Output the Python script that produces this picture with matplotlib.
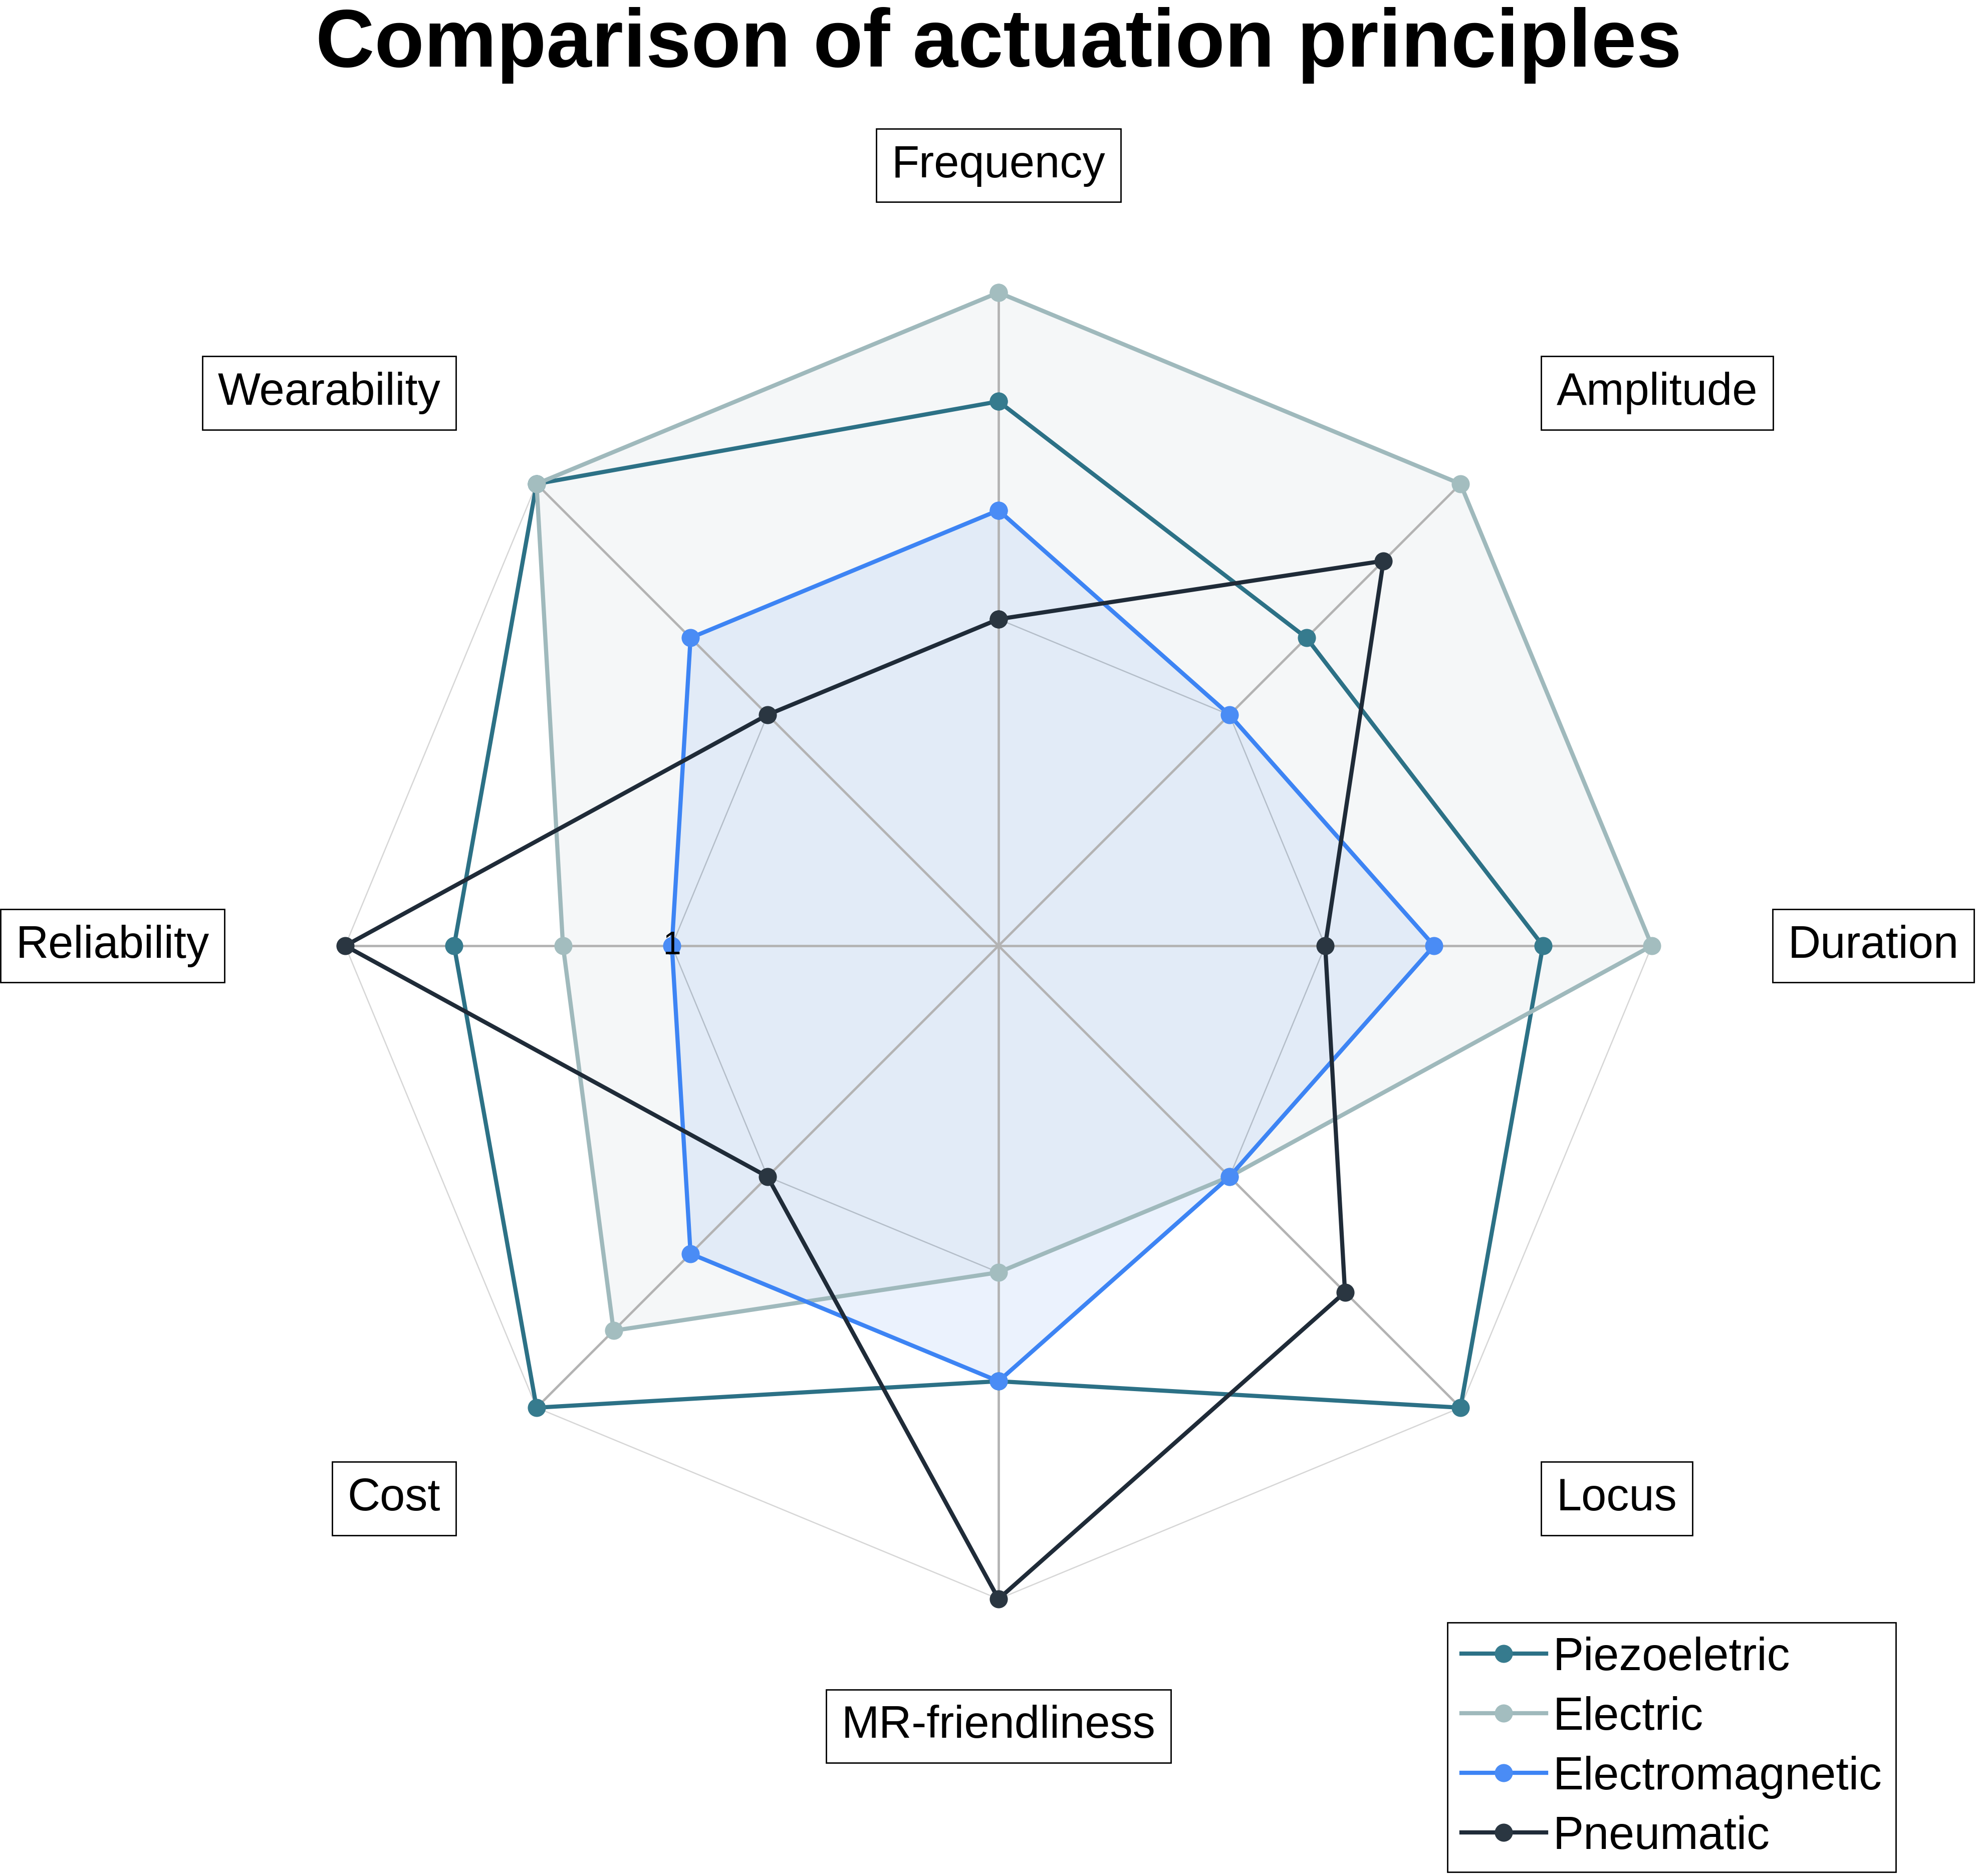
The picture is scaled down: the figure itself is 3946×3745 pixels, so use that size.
import numpy as np
import matplotlib
matplotlib.use("Agg")
import matplotlib.pyplot as plt

plt.rcParams['font.family'] = ['Liberation Sans', 'DejaVu Sans']

# ---- data ----
categories = ["Frequency", "Amplitude", "Duration", "Locus",
              "MR-friendliness", "Cost", "Reliability", "Wearability"]
series_names = ["Piezoeletric", "Electric", "Electromagnetic", "Pneumatic"]
piezo = [3, 2, 3, 4, 2, 4, 3, 4]
electric = [4, 4, 4, 1, 1, 3, 2, 4]
electromagnetic = [2, 1, 2, 1, 2, 2, 1, 2]
pneumatic = [1, 3, 1, 2.5, 4, 1, 4, 1]
radial_range = [-2, 4]
radial_ticks = [1, 4]
title = "Comparison of actuation principles"

colors = ["#2c7186", "#9fb9bc", "#3d84f4", "#1f2b38"]
marker_colors = ["#367b8e", "#a3bdbf", "#4a8cf5", "#2a3641"]
fills = [False, True, True, False]

# ---- figure ----
W, H = 3946, 3745
fig = plt.figure(figsize=(W / 100, H / 100), dpi=100)
ax = fig.add_axes([0, 0, 1, 1])
cx, cy, R = 1993, 1888, 1304
ax.set_xlim(-cx / R, (W - cx) / R)
ax.set_ylim(-(H - cy) / R, cy / R)
ax.set_aspect('equal')
ax.axis('off')

n = len(categories)
theta = np.deg2rad(90 - 45 * np.arange(n))
rmin, rmax = radial_range


def to_xy(vals):
    r = (np.asarray(vals, float) - rmin) / (rmax - rmin)
    x = r * np.cos(theta)
    y = r * np.sin(theta)
    return np.append(x, x[0]), np.append(y, y[0])


# grid: rings
for tv, col in zip(radial_ticks, ["#c6c6c6", "#d6d6d6"]):
    gx, gy = to_xy([tv] * n)
    ax.plot(gx, gy, color=col, lw=1.8, zorder=1)
# spokes
for t in theta:
    ax.plot([0, np.cos(t)], [0, np.sin(t)], color="#b3b3b3", lw=3.4, zorder=1.5)

all_series = [piezo, electric, electromagnetic, pneumatic]
for i, vals in enumerate(all_series):
    x, y = to_xy(vals)
    if fills[i]:
        ax.fill(x, y, color=colors[i], alpha=0.1, lw=0, zorder=1.2)
for i, (vals, name) in enumerate(zip(all_series, series_names)):
    x, y = to_xy(vals)
    ax.plot(x, y, color=colors[i], lw=6, marker='o', markersize=26,
            markerfacecolor=marker_colors[i], markeredgewidth=0,
            label=name, zorder=3 + i, solid_joinstyle='miter')

# radial tick label on the Reliability spoke
tr = (radial_ticks[0] - rmin) / (rmax - rmin)
ax.text(tr * np.cos(np.pi), tr * np.sin(np.pi), str(radial_ticks[0]),
        ha='center', va='center', fontsize=46, color='black', zorder=10)

# category labels
for t, lab in zip(theta, categories):
    c, s = np.cos(t), np.sin(t)
    c = 0 if abs(c) < 1e-9 else c
    s = 0 if abs(s) < 1e-9 else s
    rx = 1.208
    ry = 1.147 + 0.015 * s ** 4
    ha = 'center' if c == 0 else ('left' if c > 0 else 'right')
    va = 'center' if s == 0 else ('bottom' if s > 0 else 'top')
    ax.text(rx * c, ry * s, lab, ha=ha, va=va, fontsize=65,
            color='black', zorder=10,
            bbox=dict(boxstyle='square,pad=0.34', fc='white', ec='black', lw=2))

fig.text(cx / W, 1 - 133 / H, title, ha='center', va='baseline',
         fontsize=117, fontweight='bold', color='black')

leg = ax.legend(loc='upper left', bbox_to_anchor=(2889 / W, 1 - 3239 / H),
                bbox_transform=fig.transFigure, fontsize=66, frameon=True,
                fancybox=False, framealpha=1, edgecolor='black',
                handlelength=1.85, handletextpad=0.15, labelspacing=0.36,
                borderpad=0.3, borderaxespad=0)
leg.get_frame().set_linewidth(2)

fig.savefig("out.png", dpi=100, facecolor='white')
